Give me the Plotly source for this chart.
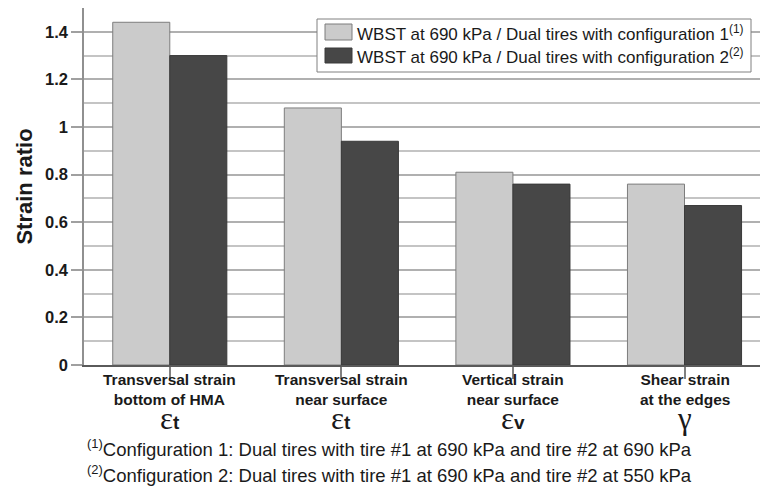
import plotly.graph_objects as go

# Strain ratios (WBST / dual tires) for each response
categories = ["Transversal strain<br>bottom of HMA", "Transversal strain<br>near surface",
              "Vertical strain<br>near surface", "Shear strain<br>at the edges"]
symbols = ["ε", "ε", "ε", "γ"]
symbol_subs = ["t", "t", "v", ""]
config1 = [1.44, 1.08, 0.81, 0.76]
config2 = [1.30, 0.94, 0.76, 0.67]
series_names = ["WBST at 690 kPa / Dual tires with configuration 1<sup>(1)</sup>",
                "WBST at 690 kPa / Dual tires with configuration 2<sup>(2)</sup>"]
footnotes = ["<sup>(1)</sup>Configuration 1: Dual tires with tire #1 at 690 kPa and tire #2 at 690 kPa",
             "<sup>(2)</sup>Configuration 2: Dual tires with tire #1 at 690 kPa and tire #2 at 550 kPa"]
y_ticks = [0, 0.2, 0.4, 0.6, 0.8, 1, 1.2, 1.4]

LIGHT = "#cbcbcb"
DARK = "#474747"
FONT = "Arial, 'Liberation Sans', sans-serif"

W, H = 760, 488
L, R, T, B = 84, 0, 8, 123
PW, PH = W - L - R, H - T - B


def px_x(px):
    return (px - L) / PW


def px_y(py):
    return (H - B - py) / PH


x_idx = list(range(len(categories)))

fig = go.Figure()
fig.add_trace(go.Bar(x=x_idx, y=config1, name=series_names[0], showlegend=False,
                     marker=dict(color=LIGHT, line=dict(color="#7d7d7d", width=1))))
fig.add_trace(go.Bar(x=x_idx, y=config2, name=series_names[1], showlegend=False,
                     marker=dict(color=DARK, line=dict(color="#3a3a3a", width=1))))

shapes = [
    # reference line at ratio = 1
    dict(type="line", xref="paper", x0=0, x1=1, yref="y", y0=1, y1=1,
         line=dict(color="black", width=2), layer="below"),
    # legend frame and swatches
    dict(type="rect", xref="paper", yref="paper", x0=px_x(317), x1=px_x(751),
         y0=px_y(72), y1=px_y(19), fillcolor="white", line=dict(color="#808080", width=1)),
    dict(type="rect", xref="paper", yref="paper", x0=px_x(325), x1=px_x(352),
         y0=px_y(40), y1=px_y(24), fillcolor=LIGHT, line=dict(color="#7d7d7d", width=1)),
    dict(type="rect", xref="paper", yref="paper", x0=px_x(325), x1=px_x(352),
         y0=px_y(63), y1=px_y(48), fillcolor=DARK, line=dict(color="#3a3a3a", width=1)),
]

annotations = []
for name, yc in zip(series_names, [33, 56]):
    annotations.append(dict(xref="paper", yref="paper", x=px_x(355), y=px_y(yc),
                            xanchor="left", yanchor="middle", showarrow=False, text=name,
                            font=dict(family=FONT, size=17, color="#1a1a1a")))

# category captions with the strain symbol underneath
for i, (cat, sym, sub) in enumerate(zip(categories, symbols, symbol_subs)):
    annotations.append(dict(xref="x", yref="paper", x=i, y=0, yanchor="top", yshift=-4,
                            showarrow=False, text="<b>" + cat + "</b>",
                            font=dict(family=FONT, size=15.5, color="#1a1a1a")))
    label = sym
    if sub:
        label += "<span style='font-family:Arial;font-weight:bold;font-size:19px'>" + sub + "</span>"
    annotations.append(dict(xref="x", yref="paper", x=i, y=px_y(419), yanchor="middle",
                            showarrow=False, text=label,
                            font=dict(family="'Liberation Serif', serif", size=31, color="#1a1a1a")))

for note, yc in zip(footnotes, [448, 474]):
    annotations.append(dict(xref="paper", yref="paper", x=px_x(85), y=px_y(yc),
                            xanchor="left", yanchor="middle", showarrow=False, text=note,
                            font=dict(family=FONT, size=18.5, color="#1a1a1a")))

fig.update_layout(
    width=W, height=H,
    margin=dict(l=L, r=R, t=T, b=B),
    paper_bgcolor="white", plot_bgcolor="white",
    barmode="group", bargap=0.335, bargroupgap=0,
    shapes=shapes, annotations=annotations,
    xaxis=dict(range=[-0.5, 3.44], tickvals=x_idx, showticklabels=False,
               tickson="boundaries", ticks="outside", ticklen=12, tickcolor="#808080",
               tickwidth=1.5, showgrid=False, showline=True, linecolor="#5a5a5a",
               linewidth=1.5, zeroline=False),
    yaxis=dict(range=[0, 1.5], tickvals=y_ticks, ticks="outside", ticklen=11,
               tickcolor="#a0a0a0", tickwidth=1.5, showgrid=True, gridcolor="#b0b0b0",
               gridwidth=1.5, showline=True, linecolor="#909090", linewidth=1.5,
               zeroline=False,
               minor=dict(dtick=0.1, showgrid=True, gridcolor="#c4c4c4", gridwidth=1.5),
               tickfont=dict(family=FONT, size=16.5, color="#1a1a1a", weight="bold"),
               title=dict(text="<b>Strain ratio</b>", standoff=6,
                          font=dict(family=FONT, size=22, color="#1a1a1a"))),
)

fig.write_html("out.html")
